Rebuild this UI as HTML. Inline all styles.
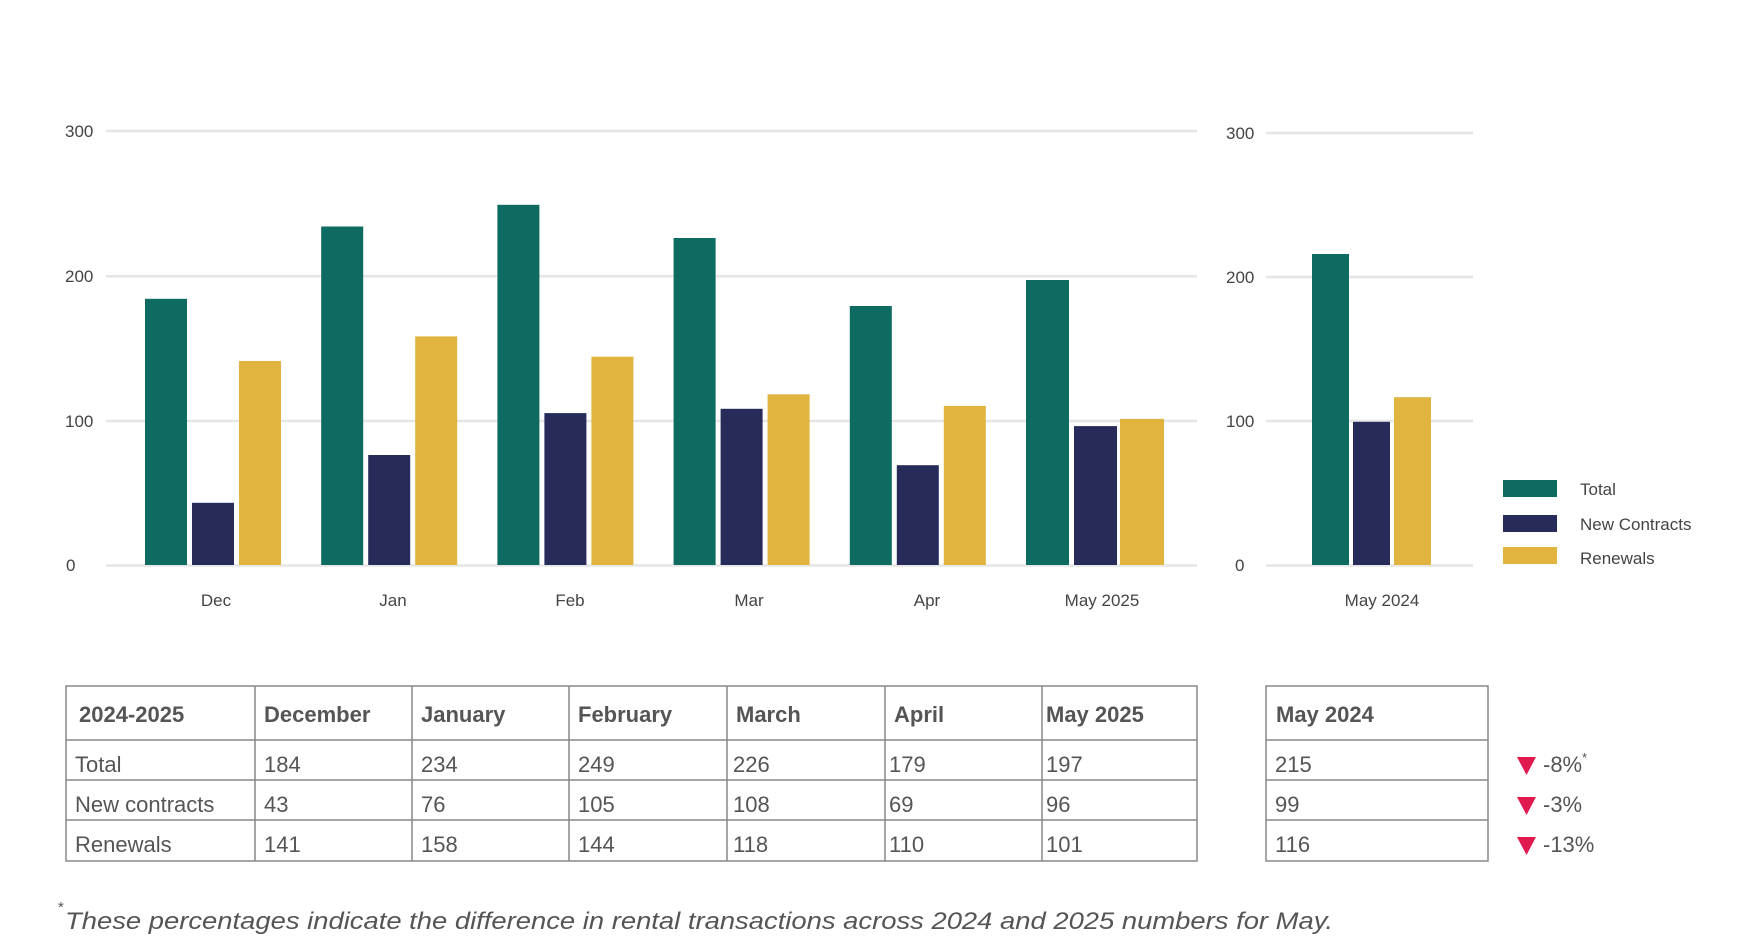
<!DOCTYPE html>
<html><head><meta charset="utf-8"><style>
html,body{margin:0;padding:0;background:#fff;}
svg{display:block;font-family:"Liberation Sans",sans-serif;}
</style></head><body>
<svg width="1743" height="942" viewBox="0 0 1743 942" xmlns="http://www.w3.org/2000/svg">
<g stroke="#e6e6e6" stroke-width="2.5">
<line x1="106" y1="131" x2="1197" y2="131"/><line x1="106" y1="276.3" x2="1197" y2="276.3"/><line x1="106" y1="421" x2="1197" y2="421"/><line x1="106" y1="565.5" x2="1197" y2="565.5"/>
<line x1="1266" y1="133" x2="1473" y2="133"/><line x1="1266" y1="277" x2="1473" y2="277"/><line x1="1266" y1="421" x2="1473" y2="421"/><line x1="1266" y1="565.5" x2="1473" y2="565.5"/>
</g>
<g font-size="17" fill="#444">
<text x="65" y="137">300</text><text x="65" y="282">200</text><text x="65" y="427">100</text><text x="66" y="571">0</text>
<text x="1226" y="139">300</text><text x="1226" y="283">200</text><text x="1226" y="427">100</text><text x="1235" y="571">0</text>
</g>
<g>
<rect x="145" y="298.8" width="42" height="266.2" fill="#0d6b62"/><rect x="192" y="502.8" width="42" height="62.2" fill="#262b5a"/><rect x="239" y="361" width="42" height="204" fill="#e0b43e"/>
<rect x="321.2" y="226.5" width="42" height="338.5" fill="#0d6b62"/><rect x="368.2" y="455" width="42" height="110" fill="#262b5a"/><rect x="415.2" y="336.4" width="42" height="228.6" fill="#e0b43e"/>
<rect x="497.4" y="204.8" width="42" height="360.2" fill="#0d6b62"/><rect x="544.4" y="413.1" width="42" height="151.9" fill="#262b5a"/><rect x="591.4" y="356.7" width="42" height="208.3" fill="#e0b43e"/>
<rect x="673.6" y="238" width="42" height="327" fill="#0d6b62"/><rect x="720.6" y="408.8" width="42" height="156.2" fill="#262b5a"/><rect x="767.6" y="394.3" width="42" height="170.7" fill="#e0b43e"/>
<rect x="849.8" y="306" width="42" height="259" fill="#0d6b62"/><rect x="896.8" y="465.2" width="42" height="99.8" fill="#262b5a"/><rect x="943.8" y="405.9" width="42" height="159.1" fill="#e0b43e"/>
<rect x="1026" y="280" width="43" height="285" fill="#0d6b62"/><rect x="1074" y="426.1" width="43" height="138.9" fill="#262b5a"/><rect x="1120" y="418.9" width="44" height="146.1" fill="#e0b43e"/>
<rect x="1312" y="254" width="37" height="311" fill="#0d6b62"/><rect x="1353" y="421.8" width="37" height="143.2" fill="#262b5a"/><rect x="1394" y="397.2" width="37" height="167.8" fill="#e0b43e"/>
</g>
<g font-size="17" fill="#444" text-anchor="middle">
<text x="216" y="606">Dec</text><text x="393" y="606">Jan</text><text x="570" y="606">Feb</text><text x="749" y="606">Mar</text><text x="927" y="606">Apr</text><text x="1102" y="606">May 2025</text><text x="1382" y="606">May 2024</text>
</g>
<rect x="1503" y="480" width="54" height="17" fill="#0d6b62"/><rect x="1503" y="515" width="54" height="17" fill="#262b5a"/><rect x="1503" y="547" width="54" height="17" fill="#e0b43e"/>
<g font-size="17" fill="#444"><text x="1580" y="495">Total</text><text x="1580" y="530">New Contracts</text><text x="1580" y="564">Renewals</text></g>
<g stroke="#888" stroke-width="1.5" fill="none">
<rect x="66" y="686" width="1131" height="175"/>
<line x1="66" y1="740" x2="1197" y2="740"/><line x1="66" y1="780" x2="1197" y2="780"/><line x1="66" y1="820" x2="1197" y2="820"/>
<line x1="255" y1="686" x2="255" y2="861"/><line x1="412" y1="686" x2="412" y2="861"/><line x1="569" y1="686" x2="569" y2="861"/><line x1="727" y1="686" x2="727" y2="861"/><line x1="885" y1="686" x2="885" y2="861"/><line x1="1042" y1="686" x2="1042" y2="861"/>
<rect x="1266" y="686" width="222" height="175"/>
<line x1="1266" y1="740" x2="1488" y2="740"/><line x1="1266" y1="780" x2="1488" y2="780"/><line x1="1266" y1="820" x2="1488" y2="820"/>
</g>
<g font-size="22" fill="#555" font-weight="bold">
<text x="79" y="722">2024-2025</text><text x="264" y="722">December</text><text x="421" y="722">January</text><text x="578" y="722">February</text><text x="736" y="722">March</text><text x="894" y="722">April</text><text x="1046" y="722">May 2025</text><text x="1276" y="722">May 2024</text>
</g>
<g font-size="22" fill="#555">
<text x="75" y="772">Total</text><text x="264" y="772">184</text><text x="421" y="772">234</text><text x="578" y="772">249</text><text x="733" y="772">226</text><text x="889" y="772">179</text><text x="1046" y="772">197</text><text x="1275" y="772">215</text>
<text x="75" y="812">New contracts</text><text x="264" y="812">43</text><text x="421" y="812">76</text><text x="578" y="812">105</text><text x="733" y="812">108</text><text x="889" y="812">69</text><text x="1046" y="812">96</text><text x="1275" y="812">99</text>
<text x="75" y="852">Renewals</text><text x="264" y="852">141</text><text x="421" y="852">158</text><text x="578" y="852">144</text><text x="733" y="852">118</text><text x="889" y="852">110</text><text x="1046" y="852">101</text><text x="1275" y="852">116</text>
</g>
<g fill="#e0194f">
<polygon points="1517,757 1536,757 1526.5,775"/><polygon points="1517,797 1536,797 1526.5,815"/><polygon points="1517,837 1536,837 1526.5,855"/>
</g>
<g font-size="22" fill="#555">
<text x="1543" y="772">-8%</text><text x="1582" y="762" font-size="13">*</text>
<text x="1543" y="812">-3%</text><text x="1543" y="852">-13%</text>
</g>
<text x="58" y="912" font-size="15" fill="#555">*</text>
<text x="65" y="929" font-size="24" font-style="italic" fill="#555" textLength="1268" lengthAdjust="spacingAndGlyphs">These percentages indicate the difference in rental transactions across 2024 and 2025 numbers for May.</text>
</svg>
</body></html>
